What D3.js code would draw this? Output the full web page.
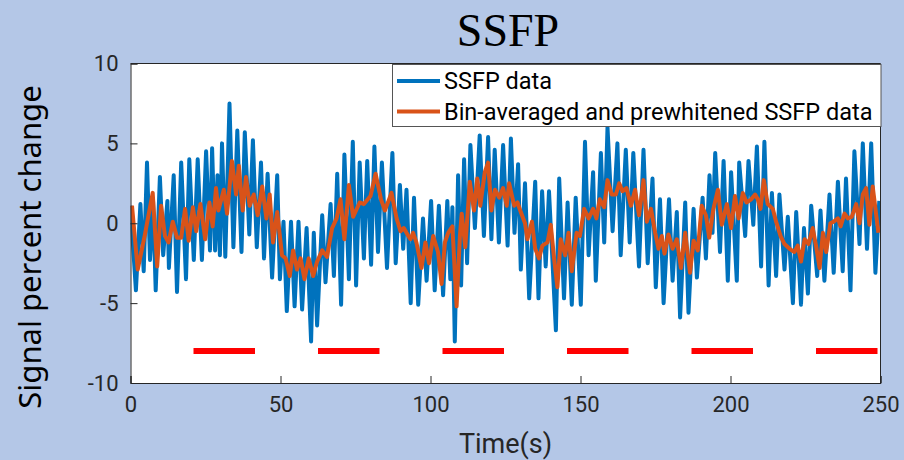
<!DOCTYPE html>
<html lang="en">
<head>
<meta charset="UTF-8">
<title>SSFP</title>
<style>
  body { margin: 0; background: #b4c7e7; }
  svg { display: block; }
</style>
</head>
<body>
<script src="https://d3js.org/d3.v7.min.js"></script>
<script>

  // raw SSFP signal, [time (s), percent change]
  var ssfpData = [
    [0,1.1],[1.8,-4.2],[3.3,1.2],[4.4,-3.0],[5.5,3.8],[6.5,-2.3],[7.5,1.5],[8.4,-4.2],[9.8,2.9],[10.9,-2.0],
    [12.3,1.4],[12.8,-2.8],[14.4,3.0],[15.5,-4.3],[16.9,3.8],[18.5,-3.5],[19.6,4.0],[21.1,-2.3],[22.4,4.0],[23.8,-2.3],
    [25.2,4.5],[26.5,-1.7],[27.2,4.7],[28.2,-1.7],[29.0,3.0],[29.8,-2.0],[30.5,5.0],[31.6,-2.1],[33.0,7.5],[34.3,-1.5],
    [35.6,5.8],[37.0,-1.8],[38.1,5.7],[39.6,-0.7],[40.8,5.2],[42.1,-1.5],[43.5,3.8],[44.5,-2.2],[45.7,3.1],[47.2,-3.4],
    [48.9,3.0],[49.8,-3.5],[51.0,0.1],[52.1,-5.5],[53.5,0.1],[54.7,-5.2],[56.0,0.1],[57.2,-5.4],[58.7,-0.3],[60.2,-7.4],
    [61.1,-0.6],[62.2,-6.4],[63.9,0.5],[65.0,-3.7],[66.7,1.2],[67.8,-3.3],[68.9,3.1],[70.2,-5.1],[71.3,4.3],[72.8,-3.5],
    [74.1,5.1],[75.2,-3.9],[76.4,3.8],[77.8,-2.2],[78.9,3.9],[80.2,-2.6],[81.3,4.8],[82.5,-1.8],[83.8,3.8],[85.5,-2.8],
    [87.3,4.4],[88.4,-2.5],[89.8,2.4],[90.9,-1.6],[92.0,2.1],[93.4,-5.0],[94.5,1.6],[95.9,-5.1],[97.5,0.3],[98.7,-3.6],
    [100.2,1.4],[101.4,-4.2],[102.8,1.1],[104.2,-4.5],[105.6,1.4],[106.6,-3.5],[107.3,1.0],[108.1,-7.4],[109.2,3.0],[110.2,-3.9],
    [111.2,4.0],[112.2,-2.5],[113.3,4.9],[114.8,-0.3],[116.4,5.5],[117.8,-0.8],[119.2,5.4],[120.3,-1.0],[121.4,4.6],[122.8,-1.2],
    [124.2,4.9],[125.7,-1.4],[126.8,5.3],[128.0,-0.6],[129.2,3.7],[130.1,-2.9],[131.5,2.5],[132.9,-4.7],[134.9,2.6],[136.0,-4.7],
    [137.2,2.0],[138.4,-2.7],[139.5,2.0],[141.8,-6.7],[142.9,2.8],[144.5,-4.7],[145.7,1.3],[147.1,-5.1],[148.4,1.6],[150.1,-5.1],
    [151.5,5.1],[152.7,-2.0],[154.2,3.2],[155.1,-3.6],[156.8,4.4],[157.9,-1.2],[159.0,6.0],[160.7,-0.5],[162.3,5.0],[163.4,-2.0],
    [165.1,4.6],[166.4,-1.2],[167.6,4.4],[169.5,-2.7],[171.0,4.6],[172.4,-2.5],[174.0,2.8],[175.1,-4.0],[176.5,1.5],[177.7,-5.0],
    [179.5,1.5],[180.7,-3.6],[182.1,0.7],[183.2,-5.9],[184.9,1.3],[186.0,-5.6],[187.7,0.9],[188.8,-3.4],[190.7,1.6],[191.8,-2.2],
    [193.0,3.0],[194.0,-0.6],[194.9,4.4],[196.5,-1.8],[197.7,3.9],[199.1,-3.6],[200.2,3.2],[202.1,-3.6],[202.9,3.8],[204.9,-0.8],
    [206.0,3.9],[207.6,-0.1],[208.8,4.8],[210.2,-2.7],[211.3,5.1],[212.7,-3.9],[213.8,1.9],[215.2,-3.3],[216.3,1.8],[218.0,-2.9],
    [219.1,0.4],[220.8,-5.0],[221.9,0.7],[223.5,-5.1],[224.5,-0.3],[225.8,-4.4],[226.9,1.1],[228.9,-3.3],[230.0,0.8],[231.3,-3.6],
    [233.0,1.8],[234.4,-3.1],[235.8,2.6],[237.4,-3.0],[238.5,2.8],[240.0,-4.2],[241.3,4.5],[243.0,-1.3],[244.1,5.0],[245.5,-1.6],
    [246.9,5.0],[248.3,-3.1],[249.6,1.4]
  ];

  // bin-averaged and prewhitened signal
  var binData = [
    [0.5,1.1],[2.4,-2.9],[4.7,-0.8],[7.4,1.9],[8.9,-2.7],[10.2,1.1],[11.5,-0.8],[12.7,-1.2],[14.1,0.1],[15.5,-0.9],
    [16.9,-0.9],[18.2,0.9],[19.4,-1.1],[20.8,1.0],[21.9,-0.5],[23.3,1.2],[24.9,-1.0],[26.3,1.3],[27.4,-0.2],[28.5,2.2],
    [29.3,0.8],[31.1,2.1],[32.2,0.6],[33.8,3.9],[35.2,1.8],[36.1,3.6],[37.4,0.8],[38.5,2.9],[39.7,1.1],[41.1,1.8],
    [42.4,0.5],[43.9,2.3],[45.3,0.3],[46.4,1.8],[47.5,-1.2],[48.9,0.7],[50.5,-2.0],[51.7,-2.2],[53.1,-3.3],[54.2,-1.7],
    [55.5,-2.9],[56.7,-2.2],[58.0,-3.5],[59.4,-2.2],[60.9,-3.3],[62.2,-2.4],[63.9,-1.7],[65.5,-2.1],[67.2,-0.3],[68.7,0.3],
    [70.0,1.5],[71.3,-1.0],[72.8,2.4],[74.2,0.4],[76.4,1.3],[77.8,1.2],[80.0,1.7],[81.7,3.1],[83.5,1.5],[84.8,0.8],
    [87.0,1.9],[88.7,0.3],[90.0,-0.5],[91.1,-0.3],[92.0,-0.6],[93.3,-1.0],[94.2,-0.6],[95.3,-1.2],[97.0,-2.8],[98.3,-1.2],
    [99.5,-2.5],[100.9,-0.8],[102.5,-1.8],[103.7,-3.8],[104.8,-1.2],[105.9,-0.6],[107.3,-0.2],[108.7,-5.2],[109.8,-0.8],[110.4,0.6],
    [111.6,-1.5],[113.1,2.6],[114.5,0.8],[115.6,2.8],[116.6,1.1],[118.1,3.2],[119.2,3.8],[120.3,0.8],[121.5,2.1],[122.9,1.6],
    [124.2,2.2],[125.4,1.1],[126.2,2.5],[127.9,1.1],[129.0,1.3],[130.1,0.7],[131.5,0.0],[132.3,-1.0],[133.8,0.1],[134.9,-1.6],
    [136.2,-2.2],[137.3,-1.4],[139.0,-1.2],[140.1,-0.1],[141.2,-2.2],[142.3,-4.0],[143.4,-1.0],[144.9,-2.0],[146.0,-0.6],[147.1,-3.0],
    [148.7,-0.6],[149.8,-0.8],[151.2,0.9],[152.7,0.3],[154.2,0.9],[155.3,0.3],[156.4,1.5],[157.9,1.0],[159.0,2.7],[160.4,1.8],
    [161.8,1.8],[162.9,2.5],[164.0,2.0],[165.3,2.2],[166.8,1.1],[168.2,2.1],[169.5,0.5],[171.0,2.7],[172.1,0.1],[173.5,0.9],
    [174.9,-0.6],[176.0,-1.6],[177.1,-0.8],[178.0,-1.9],[179.3,-0.7],[180.7,-1.6],[182.1,-1.0],[183.5,-2.8],[184.9,-0.6],[186.5,-3.1],
    [187.7,-1.1],[189.1,-1.7],[190.4,1.1],[191.8,0.5],[192.9,-0.9],[194.3,0.9],[195.8,2.1],[197.1,-0.1],[198.8,1.2],[200.2,-0.3],
    [201.5,1.7],[202.7,0.3],[204.1,1.9],[205.4,1.3],[206.9,1.5],[208.2,1.8],[209.1,1.5],[210.0,0.9],[211.1,2.7],[212.4,1.2],
    [214.1,0.9],[215.2,0.1],[216.7,-0.8],[218.0,-1.3],[219.7,-1.6],[221.3,-1.8],[222.4,-1.4],[223.5,-2.4],[224.7,-1.0],[226.0,-1.3],
    [227.4,-0.3],[228.5,-1.4],[229.7,-2.8],[230.8,-0.6],[231.9,-1.8],[233.3,0.0],[234.4,0.1],[235.8,0.3],[236.7,-0.2],[238.0,0.6],
    [239.1,0.3],[240.4,0.4],[241.9,1.2],[243.0,0.0],[244.1,1.8],[245.2,2.2],[246.3,-0.1],[247.4,2.3],[249.3,-0.6]
  ];

  // stimulus blocks (start, end in s) drawn at -8
  var blockStart = [21, 62.5, 104, 145.5, 187, 228.5];
  var blockEnd   = [41.5, 83, 124.5, 166, 207.5, 249];
  var blockLevel = -8;

  var xTicks = [0, 50, 100, 150, 200, 250];
  var yTicks = [-10, -5, 0, 5, 10];
  var legendLabels = ["SSFP data", "Bin-averaged and prewhitened SSFP data"];
  var colors = ["#0072bd", "#d95319"];

  var W = 904, H = 460;
  var plotLeft = 130.5, plotRight = 880.5, plotTop = 63.5, plotBottom = 383;

  var svg = d3.select("body").append("svg")
      .attr("width", W)
      .attr("height", H);

  svg.append("rect").attr("width", W).attr("height", H).attr("fill", "#b4c7e7");

  var x = d3.scaleLinear().domain([0, 250]).range([plotLeft, plotRight]);
  var y = d3.scaleLinear().domain([-10, 10]).range([plotBottom, plotTop]);

  // plot background
  svg.append("rect")
      .attr("x", plotLeft).attr("y", plotTop)
      .attr("width", plotRight - plotLeft).attr("height", plotBottom - plotTop)
      .attr("fill", "#fff");

  svg.append("clipPath").attr("id", "clip")
    .append("rect")
      .attr("x", plotLeft).attr("y", plotTop)
      .attr("width", plotRight - plotLeft).attr("height", plotBottom - plotTop);

  var line = d3.line()
      .x(function(d) { return x(d[0]); })
      .y(function(d) { return y(d[1]); });

  var plot = svg.append("g").attr("clip-path", "url(#clip)");

  plot.append("path")
      .datum(ssfpData)
      .attr("d", line)
      .attr("fill", "none")
      .attr("stroke", colors[0])
      .attr("stroke-width", 4)
      .attr("stroke-linejoin", "round");

  plot.append("path")
      .datum(binData)
      .attr("d", line)
      .attr("fill", "none")
      .attr("stroke", colors[1])
      .attr("stroke-width", 4)
      .attr("stroke-linejoin", "round");

  // red stimulus bars
  plot.selectAll(".block")
      .data(blockStart)
      .enter().append("line")
      .attr("class", "block")
      .attr("x1", function(d) { return x(d); })
      .attr("x2", function(d, i) { return x(blockEnd[i]); })
      .attr("y1", y(blockLevel))
      .attr("y2", y(blockLevel))
      .attr("stroke", "#ff0000")
      .attr("stroke-width", 6);

  // axes (plain hyphen for negatives, like the original)
  var axisColor = "#262626";
  var fmt = function(d) { return String(d); };
  var xAxis = svg.append("g")
      .attr("transform", "translate(0," + plotBottom + ")")
      .call(d3.axisBottom(x).tickValues(xTicks).tickFormat(fmt).tickSize(-7).tickPadding(13));
  var yAxis = svg.append("g")
      .attr("transform", "translate(" + plotLeft + ",0)")
      .call(d3.axisLeft(y).tickValues(yTicks).tickFormat(fmt).tickSize(-7).tickPadding(12));

  [xAxis, yAxis].forEach(function(a) {
    a.select(".domain").attr("stroke", axisColor);
    a.selectAll(".tick line").attr("stroke", axisColor);
    a.selectAll(".tick text")
        .attr("fill", axisColor)
        .style("font-family", "Roboto, sans-serif")
        .style("font-size", "22px");
  });

  // box on: top and right edges
  svg.append("line")
      .attr("x1", plotLeft).attr("x2", plotRight).attr("y1", plotTop).attr("y2", plotTop)
      .attr("stroke", axisColor);
  svg.append("line")
      .attr("x1", plotRight).attr("x2", plotRight).attr("y1", plotTop).attr("y2", plotBottom)
      .attr("stroke", axisColor);

  // title and labels
  svg.append("text")
      .attr("x", 508).attr("y", 46)
      .attr("text-anchor", "middle")
      .style("font-family", "'Liberation Serif', 'Times New Roman', serif")
      .style("font-size", "46px")
      .attr("fill", "#000")
      .text("SSFP");

  svg.append("text")
      .attr("x", (plotLeft + plotRight) / 2).attr("y", 453)
      .attr("text-anchor", "middle")
      .style("font-family", "Roboto, sans-serif")
      .style("font-size", "27px")
      .attr("fill", axisColor)
      .text("Time(s)");

  svg.append("text")
      .attr("transform", "translate(41,247) rotate(-90)")
      .attr("text-anchor", "middle")
      .style("font-family", "'Noto Sans', 'Open Sans', sans-serif")
      .style("font-size", "31px")
      .attr("fill", "#000")
      .text("Signal percent change");

  // legend
  var legend = svg.append("g");
  legend.append("rect")
      .attr("x", 392.5).attr("y", 64.5)
      .attr("width", 488.5).attr("height", 62)
      .attr("fill", "#fff")
      .attr("stroke", "#555")
      .attr("stroke-width", 1);

  legendLabels.forEach(function(label, i) {
    var ly = 81 + i * 30.5;
    legend.append("line")
        .attr("x1", 397).attr("x2", 440)
        .attr("y1", ly).attr("y2", ly)
        .attr("stroke", colors[i])
        .attr("stroke-width", 4);
    legend.append("text")
        .attr("x", 444).attr("y", ly)
        .attr("dy", "0.36em")
        .style("font-family", "Roboto, sans-serif")
        .style("font-size", "23.5px")
        .attr("fill", "#000")
        .text(label);
  });

</script>
</body>
</html>
